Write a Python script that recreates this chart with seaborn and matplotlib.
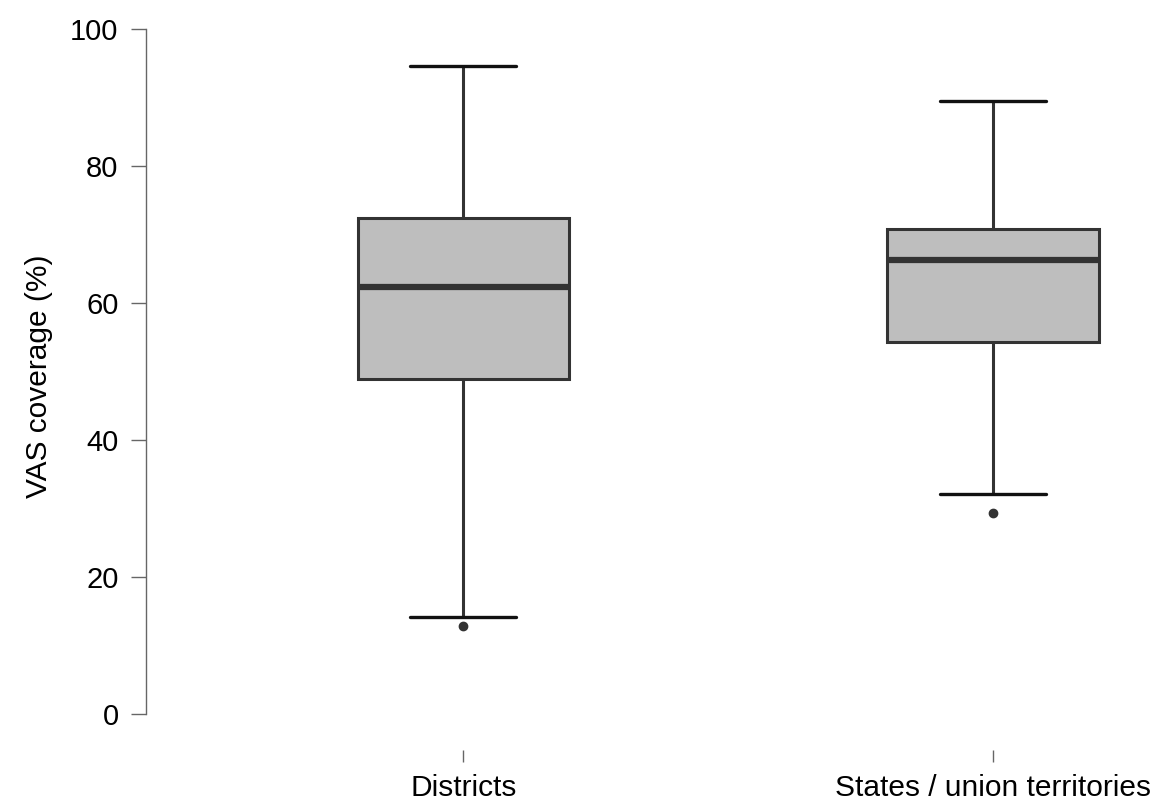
import matplotlib
matplotlib.use("Agg")
import matplotlib.pyplot as plt
import seaborn as sns
import pandas as pd

# five-number summaries, plus the single outlier per group
categories = ["Districts", "States / union territories"]
lower_whisker = [14.2, 32.1]
q1 = [48.9, 54.4]
median = [62.4, 66.3]
q3 = [72.5, 70.9]
upper_whisker = [94.6, 89.5]
outliers = [12.9, 29.4]

# nine values per group reproduce these quartiles exactly (positions 2, 4, 6)
rows = []
for i, cat in enumerate(categories):
    sample = [outliers[i], lower_whisker[i], q1[i], q1[i], median[i],
              q3[i], q3[i], upper_whisker[i], upper_whisker[i]]
    for v in sample:
        rows.append({"group": cat, "coverage": v})
df = pd.DataFrame(rows)

sns.set_style("white")
plt.rcParams["font.family"] = ["Liberation Sans", "DejaVu Sans"]
plt.rcParams["text.color"] = "black"
plt.rcParams["axes.labelcolor"] = "black"
plt.rcParams["xtick.labelcolor"] = "black"
plt.rcParams["ytick.labelcolor"] = "black"

fig = plt.figure(figsize=(11.71, 8.02), dpi=100)
ax = fig.add_axes([146 / 1171, 0.0653, 1014 / 1171, 0.9323])

dark = "#333333"
sns.boxplot(
    data=df, x="group", y="coverage", ax=ax,
    order=categories, width=0.4, color="#BEBEBE", saturation=1,
    linecolor=dark, linewidth=2.2,
    medianprops={"color": dark, "linewidth": 4.5},
    capprops={"color": "#111111", "linewidth": 2.4},
    whiskerprops={"color": dark, "linewidth": 2.2},
    flierprops={"marker": "o", "markerfacecolor": dark,
                "markeredgecolor": dark, "markersize": 6},
)

ax.set_xlim(-0.5997, 1.316)
ax.set_ylim(-5.2, 104)
ax.set_yticks([0, 20, 40, 60, 80, 100])

for side in ["top", "right", "bottom"]:
    ax.spines[side].set_visible(False)
ax.spines["left"].set_bounds(0, 100)
ax.spines["left"].set_color("#666666")
ax.spines["left"].set_linewidth(1.0)

ax.tick_params(axis="y", length=10.8, width=1.0, color="#666666",
               labelsize=21, pad=9, left=True, labelcolor="black")
ax.tick_params(axis="x", length=8.6, width=1.0, color="#666666",
               labelsize=21.5, pad=9, bottom=True, direction="out",
               labelcolor="black")

ax.set_xlabel("")
ax.set_ylabel("VAS coverage (%)", fontsize=21.5, labelpad=12, color="black")

fig.savefig("out.png", dpi=100)
